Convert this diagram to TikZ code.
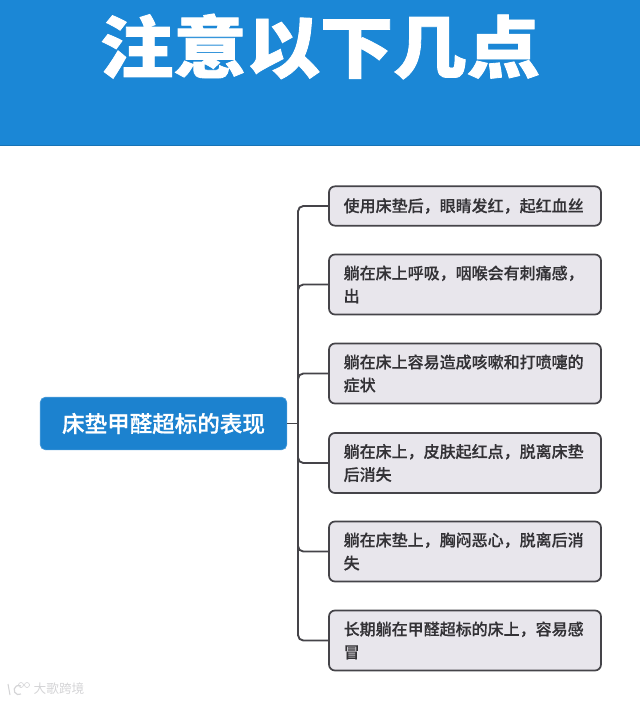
\documentclass[tikz,border=0pt]{standalone}
\usepackage{fontspec}
\usepackage{xcolor}
\newfontfamily\cjk{Noto Sans CJK SC}
\newfontfamily\cjkblack[FakeBold=1.2]{Noto Sans CJK SC Black}
\newfontfamily\cjkmed[FakeBold=0.3]{Noto Sans CJK SC Medium}
\newfontfamily\cjkroot[FakeBold=0.6]{Noto Sans CJK SC Medium}
\definecolor{headblue}{HTML}{1B87D6}
\definecolor{rootblue}{HTML}{1C82CF}
\definecolor{itemfill}{HTML}{E8E6EC}
\definecolor{itemline}{HTML}{454449}
\definecolor{itemtext}{HTML}{333236}
\definecolor{markgray}{HTML}{D4D4D6}
\tikzset{
  itembox/.style={draw=itemline,line width=1.3pt,fill=itemfill,rounded corners=4.5pt,
    minimum width=204pt,text width=182pt,align=left,inner xsep=11pt,inner ysep=0pt,
    text=itemtext,font=\cjkmed\fontsize{12}{17.25}\selectfont},
  rootbox/.style={fill=rootblue,draw=rootblue!80!white,line width=0.5pt,rounded corners=4pt,
    minimum width=185pt,minimum height=39.5pt,text=white,
    font=\cjkroot\fontsize{16.9}{20}\selectfont},
  conn/.style={draw=itemline,line width=1.4pt,rounded corners=4pt},
}
\begin{document}
\begin{tikzpicture}[x=0.75pt,y=-0.75pt]
\useasboundingbox (0,0) rectangle (640,702);
% header band
\fill[headblue] (0,0) rectangle (640,145);
\draw[headblue!85!black,line width=0.6pt] (0,145) -- (640,145);
\node[text=white,yscale=0.92,transform shape,font=\cjkblack\fontsize{55}{60}\selectfont] (title) at (320,46.5) {注意以下几点};
% root
\node[rootbox] (root) at (163.5,423.5) {床垫甲醛超标的表现};
\coordinate (trunk) at (298,423.5);
\draw[conn] (root.east) -- (trunk);
% symptoms
\foreach \i/\y/\h/\txt in {
  1/206/29.5/{使用床垫后，眼睛发红，起红血丝},
  2/284.5/45/{躺在床上呼吸，咽喉会有刺痛感，\\出},
  3/373.5/45/{躺在床上容易造成咳嗽和打喷嚏的\\症状},
  4/463/45/{躺在床上，皮肤起红点，脱离床垫\\后消失},
  5/551.5/45/{躺在床垫上，胸闷恶心，脱离后消\\失},
  6/640.5/45/{长期躺在甲醛超标的床上，容易感\\冒}}
{
  \node[itembox,minimum height=\h pt] (item\i) at (465,\y) {\txt};
  \draw[conn] (trunk) |- (item\i.west);
}
% watermark
\node[text=markgray,font=\cjk\fontsize{9.5}{10}\selectfont] (mark) at (59,689) {大歌跨境};
\draw[markgray,line width=0.8pt] (8,684) -- (10,695);
\draw[markgray,line width=0.9pt] (21,694) arc (60:300:4.6);
\draw[markgray,line width=0.5pt] (21,685) circle (2.5);
\draw[markgray,line width=0.5pt] (27,685) circle (2.5);
\end{tikzpicture}
\end{document}
